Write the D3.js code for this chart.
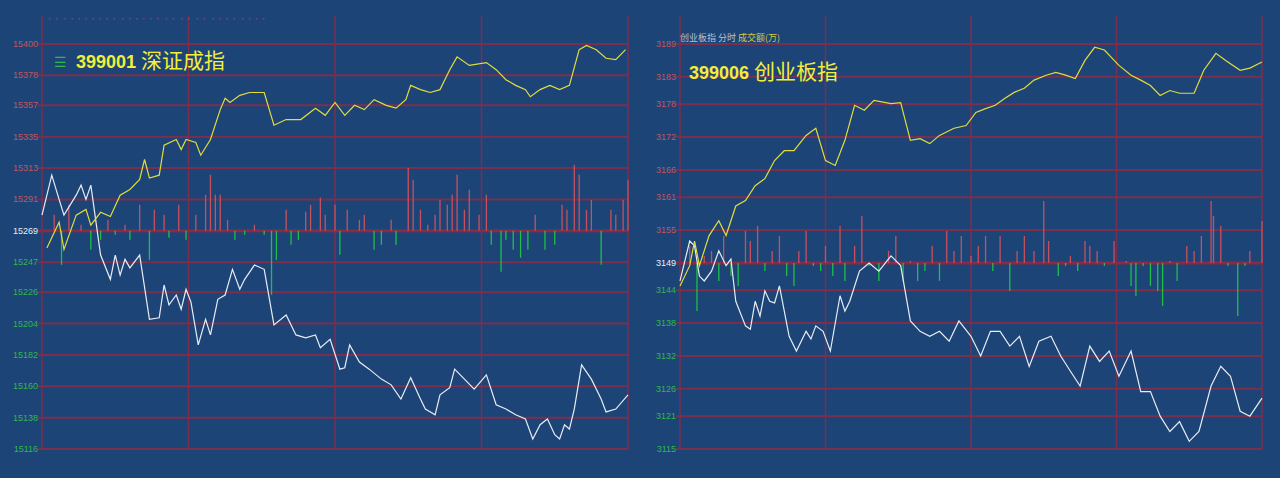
<!DOCTYPE html>
<html><head><meta charset="utf-8">
<script src="https://cdn.jsdelivr.net/npm/d3@7"></script>
<style>body{margin:0;background:#1d4476;}svg{display:block;}</style>
</head><body>
<svg id="chart" width="1280" height="478"></svg>
<script>
// Left panel: 399001 深证成指 (minute, value)
var szPrice = [[2,15257],[7,15275],[9,15256],[14,15280],[18,15284],[20,15273],[24,15282],[28,15279],[32,15294],[36,15298],[40,15305],[42,15319],[44,15306],[48,15308],[50,15329],[55,15333],[57,15326],[59,15333],[63,15331],[65,15322],[69,15333],[73,15354],[75,15362],[77,15359],[81,15364],[85,15366],[91,15366],[95,15343],[100,15347],[106,15347],[112,15355],[116,15350],[120,15359],[124,15350],[128,15357],[132,15354],[136,15361],[141,15357],[145,15355],[149,15361],[151,15371],[155,15368],[159,15366],[163,15368],[167,15382],[170,15391],[175,15385],[182,15387],[186,15382],[190,15375],[194,15371],[198,15368],[200,15363],[204,15368],[208,15371],[212,15368],[216,15371],[220,15396],[223,15399],[227,15396],[231,15390],[235,15389],[239,15396]];
var szWhite = [[0,15280],[4,15308],[7,15291],[9,15280],[14,15294],[16,15301],[18,15291],[20,15301],[24,15252],[28,15235],[30,15252],[32,15238],[34,15249],[36,15243],[40,15252],[44,15207],[48,15208],[50,15231],[52,15217],[55,15224],[57,15214],[59,15228],[61,15219],[64,15189],[67,15207],[69,15196],[72,15221],[75,15224],[78,15242],[81,15228],[83,15235],[87,15245],[91,15242],[95,15203],[100,15210],[104,15196],[108,15194],[112,15196],[114,15187],[118,15193],[122,15172],[124,15173],[126,15189],[130,15177],[134,15172],[139,15165],[143,15161],[147,15151],[151,15166],[155,15151],[157,15144],[161,15140],[163,15154],[167,15159],[169,15172],[173,15165],[177,15158],[182,15168],[186,15147],[190,15144],[194,15140],[198,15137],[201,15123],[204,15133],[207,15137],[210,15126],[212,15123],[214,15133],[216,15130],[218,15144],[221,15175],[225,15165],[229,15151],[231,15142],[235,15144],[240,15154]];
var szBarMin = [5,8,11,16,20,24,27,30,34,36,40,44,46,50,52,56,59,63,67,69,71,73,76,79,83,87,91,94,96,100,102,105,108,110,114,116,120,122,125,130,132,136,139,143,145,150,152,155,158,161,163,166,168,170,173,175,179,182,184,188,190,193,196,199,202,206,210,213,215,218,220,223,225,229,233,235,238,240];
var szBarVal = [16,-34,26,6,-19,-9,11,-4,6,-9,26,-29,21,16,-7,26,-9,16,36,56,36,36,11,-9,-4,6,-4,-64,-29,21,-14,-9,19,26,33,16,26,-24,21,11,16,-19,-14,11,-14,63,51,21,6,16,31,26,36,56,21,41,16,36,-14,-41,-9,-19,-27,-19,16,-19,-14,26,21,66,56,21,31,-34,21,16,31,51];
var szTicks = [15400,15378,15357,15335,15313,15291,15269,15247,15226,15204,15182,15160,15138,15116];

// Right panel: 399006 创业板指
var cyPrice = [[0,3144.8],[4,3148.5],[6,3153.0],[8,3148.5],[12,3154.0],[16,3156.7],[19,3154.0],[23,3159.4],[27,3160.4],[31,3163.1],[35,3164.4],[39,3167.7],[43,3169.5],[47,3169.5],[52,3172.3],[56,3173.6],[60,3167.7],[64,3166.8],[68,3171.4],[72,3177.8],[76,3176.9],[80,3178.7],[87,3178.1],[91,3178.3],[95,3171.4],[99,3171.7],[103,3170.8],[107,3172.3],[113,3173.6],[118,3174.1],[122,3176.5],[126,3177.2],[130,3177.8],[134,3179.1],[138,3180.2],[142,3180.9],[146,3182.4],[151,3183.3],[155,3183.8],[159,3183.3],[163,3182.7],[167,3186.0],[171,3188.4],[175,3187.9],[181,3185.1],[186,3183.3],[190,3182.4],[194,3181.4],[198,3179.6],[202,3180.5],[206,3180.0],[212,3180.0],[216,3184.2],[221,3187.3],[225,3186.0],[231,3184.2],[235,3184.6],[240,3185.7]];
var cyWhite = [[0,3145.7],[4,3153.0],[6,3152.1],[8,3146.6],[10,3145.7],[13,3147.5],[16,3151.2],[19,3148.5],[21,3149.7],[23,3142.0],[27,3137.5],[29,3136.9],[31,3142.0],[33,3139.3],[35,3143.9],[37,3142.0],[39,3141.7],[41,3144.8],[45,3135.6],[48,3132.9],[52,3136.5],[54,3135.1],[56,3137.5],[59,3136.5],[62,3132.9],[66,3143.0],[68,3140.2],[70,3142.0],[74,3147.5],[78,3149.0],[82,3147.5],[87,3150.3],[91,3148.5],[95,3138.4],[99,3136.5],[103,3135.6],[107,3136.5],[111,3134.7],[115,3138.4],[120,3135.6],[124,3132.0],[128,3136.5],[132,3136.5],[136,3133.8],[140,3135.6],[144,3130.1],[148,3134.7],[153,3135.6],[157,3132.0],[161,3129.2],[165,3126.5],[169,3133.8],[173,3131.0],[177,3132.9],[181,3128.3],[186,3132.9],[190,3125.5],[194,3125.5],[198,3121.0],[202,3118.2],[206,3120.0],[210,3116.4],[214,3118.2],[219,3126.5],[223,3130.1],[227,3128.3],[231,3121.9],[235,3121.0],[240,3124.3]];
var cyBarMin = [4,7,10,13,16,18,21,24,27,29,32,35,38,41,44,47,49,52,55,58,60,63,66,68,72,75,78,82,86,89,92,95,98,101,104,107,110,113,116,120,123,126,129,132,136,139,142,146,150,152,156,159,161,164,167,169,172,175,179,184,186,188,191,194,197,199,202,205,209,212,215,219,220,223,226,230,233,235,240];
var cyBarVal = [17,-48,7,12,-18,27,-13,-23,32,22,37,-8,12,27,-13,-23,12,32,-3,-8,17,-13,37,-18,17,47,-3,-18,12,27,-18,2,-18,-8,17,-18,32,12,27,7,17,27,-8,27,-28,12,27,12,62,22,-13,-3,7,-8,22,17,12,-3,22,2,-23,-33,-3,-23,-28,-43,2,-18,17,12,27,62,47,37,-3,-53,-3,12,42];
var cyTicks = [3189,3183,3178,3172,3166,3161,3155,3149,3144,3138,3132,3126,3121,3115];

var svg = d3.select("#chart");
var gridColor = "#7b2f4f";

function drawPanel(opt) {
  var g = svg.append("g");
  var x = d3.scaleLinear().domain([0, 240]).range([opt.x0, opt.x1]);
  var y = d3.scaleLinear().domain([opt.ticks[opt.ticks.length - 1], opt.ticks[0]]).range([opt.y1, opt.y0]);
  var base = opt.ticks[opt.baseIdx];
  var vol = d3.scaleLinear().domain([0, 100]).range([0, 100]);

  // horizontal grid
  g.selectAll(".h").data(opt.ticks).join("line")
    .attr("x1", opt.x0 - 4).attr("x2", opt.x1)
    .attr("y1", d => y(d)).attr("y2", d => y(d))
    .attr("stroke", (d, i) => i == opt.baseIdx ? "#8a2a45" : gridColor)
    .attr("stroke-width", (d, i) => i == opt.baseIdx ? 3 : 2);
  // vertical grid
  g.selectAll(".v").data([0, 60, 120, 180, 240]).join("line")
    .attr("x1", d => x(d)).attr("x2", d => x(d))
    .attr("y1", opt.y0 - 28).attr("y2", opt.y1)
    .attr("stroke", gridColor).attr("stroke-width", 1.5);

  // tick labels
  g.selectAll(".t").data(opt.ticks).join("text")
    .attr("x", opt.x0 - 4).attr("y", d => y(d) + 3)
    .attr("text-anchor", "end")
    .attr("font-family", "Liberation Sans, Arial").attr("font-size", 9)
    .attr("fill", (d, i) => i < opt.baseIdx ? "#c3545e" : i == opt.baseIdx ? "#e8eef5" : "#2fb84c")
    .text(d => d);

  // volume bars
  var bars = opt.barMin.map((m, i) => ({m: m, v: opt.barVal[i]}));
  g.selectAll(".b").data(bars).join("line")
    .attr("x1", d => x(d.m)).attr("x2", d => x(d.m))
    .attr("y1", y(base)).attr("y2", d => y(base) - vol(d.v))
    .attr("stroke", d => d.v > 0 ? "#c8505e" : "#1fbf4a").attr("stroke-width", 1.3);

  var line = d3.line().x(d => x(d[0])).y(d => y(d[1]));
  g.append("path").datum(opt.white).attr("d", line)
    .attr("fill", "none").attr("stroke", "#e8ecf3").attr("stroke-width", 1.2);
  g.append("path").datum(opt.price).attr("d", line)
    .attr("fill", "none").attr("stroke", "#e2dc3c").attr("stroke-width", 1.2);
  return g;
}

var left = drawPanel({x0: 42, x1: 628, y0: 44, y1: 449, ticks: szTicks, baseIdx: 6,
  price: szPrice, white: szWhite, barMin: szBarMin, barVal: szBarVal});
var right = drawPanel({x0: 680, x1: 1262, y0: 44, y1: 449, ticks: cyTicks, baseIdx: 7,
  price: cyPrice, white: cyWhite, barMin: cyBarMin, barVal: cyBarVal});

// titles
left.append("text").attr("x", 54).attr("y", 67).attr("fill", "#2fb84c")
  .attr("font-family", "Noto Sans CJK SC").attr("font-size", 14).text("☰");
var t1 = left.append("text").attr("x", 76).attr("y", 68)
  .attr("font-family", "Noto Sans CJK SC").attr("font-size", 21).attr("fill", "#f2ee3a");
t1.append("tspan").attr("font-family", "Liberation Sans, Arial").attr("font-weight", "bold").attr("font-size", 18).text("399001 ");
t1.append("tspan").text("深证成指");
left.append("text").attr("x", 46).attr("y", 21).attr("fill", "#7a4aa0").attr("font-size", 7)
  .attr("font-family", "Noto Sans CJK SC").text("•• ••••••••   ••••••      ••  ••     •• ••••  ••••");

var t2 = right.append("text").attr("x", 689).attr("y", 79)
  .attr("font-family", "Noto Sans CJK SC").attr("font-size", 21).attr("fill", "#f2ee3a");
t2.append("tspan").attr("font-family", "Liberation Sans, Arial").attr("font-weight", "bold").attr("font-size", 18).text("399006 ");
t2.append("tspan").text("创业板指");
var sub = right.append("text").attr("x", 680).attr("y", 41)
  .attr("font-family", "Noto Sans CJK SC").attr("font-size", 9);
sub.append("tspan").attr("fill", "#b9c3d3").text("创业板指   分时  ");
sub.append("tspan").attr("fill", "#d6c94a").text("成交额(万)");
</script>
</body></html>
